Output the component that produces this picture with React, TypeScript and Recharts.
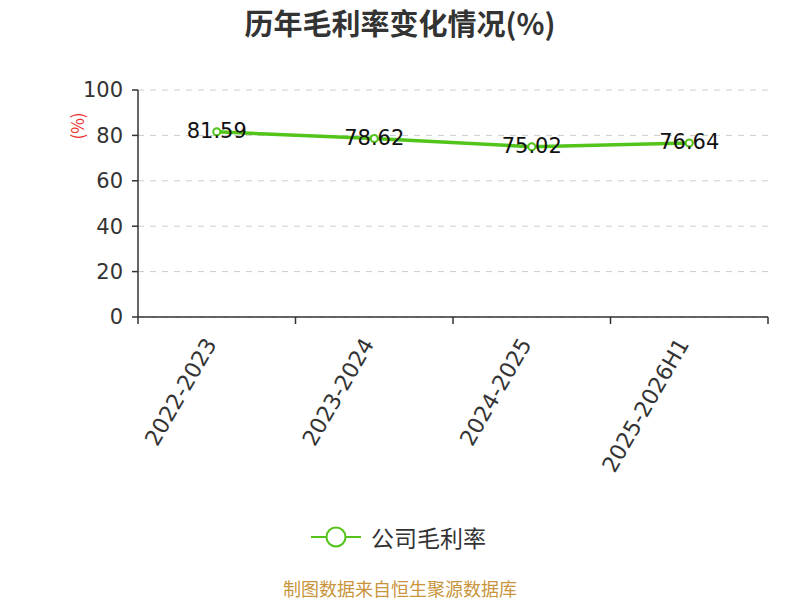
import React from 'react';
import { LineChart, Line, XAxis, YAxis, CartesianGrid, LabelList } from 'recharts';

const periods = ['2022-2023', '2023-2024', '2024-2025', '2025-2026H1'];
const grossMargin = [81.59, 78.62, 75.02, 76.64];
const yTicks = [0, 20, 40, 60, 80, 100];

const data = periods.map((p, i) => ({ period: p, margin: grossMargin[i] }));

const CJK = '"Noto Sans CJK SC", "Noto Sans", sans-serif';
const NUM = '"DejaVu Sans", "Noto Sans", sans-serif';
const GREEN = '#52c41a';
const BAND = 630 / periods.length;

const XTick = (props: any) => {
  const { x, y, payload, index } = props;
  const last = index === periods.length - 1;
  return (
    <g>
      <line x1={x - BAND / 2} y1={y - 8} x2={x - BAND / 2} y2={y - 1} stroke="#333" strokeWidth={1.5} />
      {last && <line x1={x + BAND / 2} y1={y - 8} x2={x + BAND / 2} y2={y - 1} stroke="#333" strokeWidth={1.5} />}
      <text
        x={x - 6}
        y={y + 15}
        transform={`rotate(-60, ${x - 6}, ${y + 15})`}
        textAnchor="end"
        dominantBaseline="central"
        fontSize={22}
        fill="#333"
        fontFamily={NUM}
      >
        {payload.value}
      </text>
    </g>
  );
};

const ValueLabel = (props: any) => {
  const { x, y, value } = props;
  return (
    <text x={x} y={y - 1} textAnchor="middle" dominantBaseline="central" fontSize={21} fill="#111" fontFamily={NUM}>
      {value}
    </text>
  );
};

export default function App() {
  return (
    <div style={{ position: 'absolute', left: 0, top: 0, width: 800, height: 600, background: '#fff', fontFamily: CJK }}>
      <div style={{ position: 'absolute', top: 2, width: 800, textAlign: 'center', fontSize: 29, fontWeight: 700, color: '#333', lineHeight: '40px' }}>
        历年毛利率变化情况(%)
      </div>
      <LineChart width={800} height={600} data={data} margin={{ top: 90, right: 32, left: 0, bottom: 0 }}>
        <CartesianGrid vertical={false} stroke="#ccc" strokeDasharray="6 6" />
        <XAxis
          dataKey="period"
          scale="band"
          height={283}
          axisLine={{ stroke: '#333', strokeWidth: 1.5 }}
          tickLine={false}
          interval={0}
          tick={<XTick />}
        />
        <YAxis
          width={138}
          domain={[0, 100]}
          ticks={yTicks}
          axisLine={{ stroke: '#333', strokeWidth: 1.5 }}
          tickLine={{ stroke: '#333', strokeWidth: 1.5 }}
          tickSize={6}
          tick={{ fontSize: 21, fill: '#333', fontFamily: NUM, dx: -7 }}
        />
        <Line
          type="linear"
          dataKey="margin"
          stroke={GREEN}
          strokeWidth={3.5}
          dot={{ r: 3.5, fill: '#fff', stroke: GREEN, strokeWidth: 2 }}
          isAnimationActive={false}
        >
          <LabelList dataKey="margin" content={<ValueLabel />} />
        </Line>
        <text x={76} y={126} transform="rotate(-90, 76, 126)" textAnchor="middle" dominantBaseline="central" fontSize={17} fill="#e33" fontFamily={CJK}>
          (%)
        </text>
      </LineChart>
      <svg style={{ position: 'absolute', left: 300, top: 522 }} width={70} height={30}>
        <line x1={11} y1={15} x2={61} y2={15} stroke={GREEN} strokeWidth={2} />
        <circle cx={36} cy={15} r={9.5} fill="#fff" stroke={GREEN} strokeWidth={2} />
      </svg>
      <div style={{ position: 'absolute', left: 371, top: 521, fontSize: 23, color: '#333', lineHeight: '32px' }}>公司毛利率</div>
      <div style={{ position: 'absolute', top: 576, width: 800, textAlign: 'center', fontSize: 18, color: '#c9953c', lineHeight: '24px' }}>
        制图数据来自恒生聚源数据库
      </div>
    </div>
  );
}
